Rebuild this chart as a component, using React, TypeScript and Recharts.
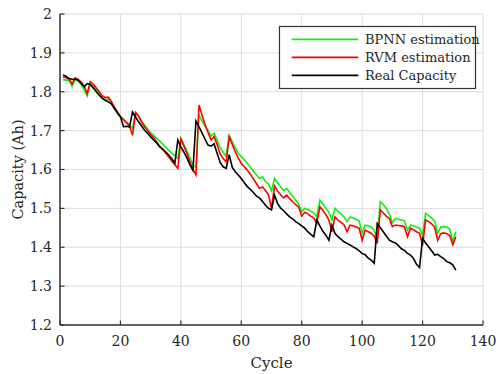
import React from 'react';
import { LineChart, Line, XAxis, YAxis, CartesianGrid } from 'recharts';

const CYCLES = [
  1, 2, 3, 4, 5, 6, 7, 8, 9, 10, 11, 12, 13, 14, 15, 16, 17, 18, 19, 20,
  21, 22, 23, 24, 25, 26, 27, 28, 29, 30, 31, 32, 33, 34, 35, 36, 37, 38, 39, 40,
  41, 42, 43, 44, 45, 46, 47, 48, 49, 50, 51, 52, 53, 54, 55, 56, 57, 58, 59, 60,
  61, 62, 63, 64, 65, 66, 67, 68, 69, 70, 71, 72, 73, 74, 75, 76, 77, 78, 79, 80,
  81, 82, 83, 84, 85, 86, 87, 88, 89, 90, 91, 92, 93, 94, 95, 96, 97, 98, 99, 100,
  101, 102, 103, 104, 105, 106, 107, 108, 109, 110, 111, 112, 113, 114, 115, 116, 117, 118, 119, 120,
  121, 122, 123, 124, 125, 126, 127, 128, 129, 130, 131,
];

const BPNN = [
  1.831, 1.830, 1.829, 1.814, 1.831, 1.828, 1.818, 1.805, 1.789, 1.820,
  1.815, 1.805, 1.795, 1.785, 1.779, 1.781, 1.772, 1.760, 1.748, 1.737,
  1.730, 1.722, 1.715, 1.706, 1.743, 1.736, 1.724, 1.714, 1.704, 1.695,
  1.688, 1.680, 1.673, 1.665, 1.657, 1.649, 1.642, 1.636, 1.628, 1.680,
  1.665, 1.648, 1.630, 1.612, 1.605, 1.740, 1.726, 1.711, 1.700, 1.686,
  1.693, 1.676, 1.656, 1.645, 1.633, 1.688, 1.672, 1.656, 1.641, 1.633,
  1.625, 1.616, 1.606, 1.596, 1.586, 1.577, 1.581, 1.569, 1.563, 1.545,
  1.577, 1.566, 1.556, 1.546, 1.551, 1.541, 1.531, 1.521, 1.511, 1.491,
  1.500, 1.497, 1.493, 1.488, 1.478, 1.521, 1.511, 1.500, 1.490, 1.470,
  1.500, 1.492, 1.486, 1.478, 1.466, 1.478, 1.475, 1.472, 1.468, 1.436,
  1.457, 1.455, 1.452, 1.444, 1.420, 1.517, 1.510, 1.500, 1.486, 1.463,
  1.474, 1.472, 1.470, 1.468, 1.444, 1.457, 1.455, 1.452, 1.449, 1.431,
  1.487, 1.482, 1.475, 1.468, 1.436, 1.452, 1.453, 1.452, 1.447, 1.414,
  1.440,
];

const RVM = [
  1.838, 1.836, 1.832, 1.820, 1.836, 1.832, 1.825, 1.815, 1.795, 1.826,
  1.820, 1.810, 1.800, 1.790, 1.785, 1.786, 1.775, 1.760, 1.748, 1.735,
  1.728, 1.720, 1.712, 1.688, 1.747, 1.738, 1.722, 1.710, 1.700, 1.690,
  1.682, 1.671, 1.660, 1.652, 1.642, 1.632, 1.622, 1.612, 1.603, 1.678,
  1.660, 1.641, 1.620, 1.600, 1.586, 1.766, 1.740, 1.716, 1.695, 1.676,
  1.685, 1.664, 1.640, 1.628, 1.620, 1.684, 1.665, 1.646, 1.629, 1.616,
  1.607, 1.598, 1.588, 1.576, 1.564, 1.552, 1.555, 1.546, 1.535, 1.500,
  1.558, 1.545, 1.535, 1.527, 1.534, 1.525, 1.517, 1.510, 1.503, 1.480,
  1.490, 1.486, 1.480, 1.475, 1.462, 1.504, 1.495, 1.484, 1.470, 1.440,
  1.478, 1.470, 1.464, 1.458, 1.440, 1.457, 1.455, 1.452, 1.449, 1.418,
  1.444, 1.440, 1.436, 1.428, 1.410, 1.496, 1.488, 1.480, 1.474, 1.453,
  1.457, 1.456, 1.455, 1.453, 1.427, 1.449, 1.445, 1.440, 1.436, 1.405,
  1.470, 1.466, 1.460, 1.452, 1.418, 1.435, 1.437, 1.435, 1.430, 1.406,
  1.427,
];

const REAL = [
  1.843, 1.840, 1.834, 1.832, 1.832, 1.830, 1.822, 1.813, 1.821, 1.819,
  1.810, 1.800, 1.791, 1.783, 1.778, 1.774, 1.769, 1.757, 1.745, 1.736,
  1.710, 1.711, 1.709, 1.748, 1.735, 1.723, 1.712, 1.701, 1.693, 1.684,
  1.676, 1.668, 1.658, 1.652, 1.645, 1.637, 1.628, 1.616, 1.676, 1.658,
  1.645, 1.630, 1.612, 1.598, 1.725, 1.710, 1.694, 1.678, 1.663, 1.660,
  1.666, 1.642, 1.618, 1.607, 1.603, 1.638, 1.606, 1.594, 1.586, 1.577,
  1.566, 1.556, 1.549, 1.541, 1.532, 1.527, 1.518, 1.508, 1.500, 1.496,
  1.534, 1.513, 1.501, 1.494, 1.486, 1.478, 1.473, 1.466, 1.461, 1.455,
  1.449, 1.440, 1.433, 1.427, 1.470, 1.455, 1.441, 1.431, 1.418, 1.457,
  1.436, 1.427, 1.421, 1.414, 1.410, 1.406, 1.401, 1.397, 1.391, 1.384,
  1.381, 1.372, 1.367, 1.359, 1.461, 1.450, 1.440, 1.429, 1.418, 1.414,
  1.411, 1.404, 1.396, 1.392, 1.384, 1.380, 1.371, 1.356, 1.348, 1.423,
  1.411, 1.401, 1.391, 1.380, 1.382, 1.376, 1.371, 1.363, 1.360, 1.355,
  1.341,
];

const SERIES_NAMES = ['BPNN estimation', 'RVM estimation', 'Real Capacity'];
const SERIES_COLORS = ['#11ee11', '#ff0000', '#000000'];

const X_TICKS = [0, 20, 40, 60, 80, 100, 120, 140];
const Y_TICKS = [1.2, 1.3, 1.4, 1.5, 1.6, 1.7, 1.8, 1.9, 2];
const Y_TICK_LABELS = ['1.2', '1.3', '1.4', '1.5', '1.6', '1.7', '1.8', '1.9', '2'];
const X_LABEL = 'Cycle';
const Y_LABEL = 'Capacity (Ah)';

const data = CYCLES.map((c, i) => ({ cycle: c, bpnn: BPNN[i], rvm: RVM[i], real: REAL[i] }));

const FONT = "'DejaVu Serif', serif";
const AXIS_COLOR = '#333333';
const TEXT_COLOR = '#262626';
const TICK_LEN = 4.5;
const X_TICK_MARGIN = 11;
const Y_TICK_MARGIN = 8;

const BottomTick = (props: any) => {
  const { x, y, payload } = props;
  const base = y - X_TICK_MARGIN;
  return (
    <g>
      <line x1={x} y1={base} x2={x} y2={base - TICK_LEN} stroke={AXIS_COLOR} strokeWidth={1.2} />
      <text x={x} y={y} dy="0.71em" textAnchor="middle" fontFamily={FONT} fontSize={14} fill={TEXT_COLOR}>
        {payload.value}
      </text>
    </g>
  );
};

const TopTick = (props: any) => {
  const { x, y } = props;
  return <line x1={x} y1={y} x2={x} y2={y + TICK_LEN} stroke={AXIS_COLOR} strokeWidth={1.2} />;
};

const LeftTick = (props: any) => {
  const { x, y, payload } = props;
  const base = x + Y_TICK_MARGIN;
  const idx = Y_TICKS.indexOf(payload.value);
  const label = idx >= 0 ? Y_TICK_LABELS[idx] : String(payload.value);
  return (
    <g>
      <line x1={base} y1={y} x2={base + TICK_LEN} y2={y} stroke={AXIS_COLOR} strokeWidth={1.2} />
      <text x={x} y={y} dy="0.355em" textAnchor="end" fontFamily={FONT} fontSize={14} fill={TEXT_COLOR}>
        {label}
      </text>
    </g>
  );
};

const RightTick = (props: any) => {
  const { x, y } = props;
  return <line x1={x} y1={y} x2={x - TICK_LEN} y2={y} stroke={AXIS_COLOR} strokeWidth={1.2} />;
};

const YLabel = (props: any) => {
  const vb = props.viewBox || { x: 16, y: 14, width: 44, height: 311 };
  const cx = vb.x + 7.3;
  const cy = vb.y + vb.height / 2;
  return (
    <text
      transform={`translate(${cx}, ${cy}) rotate(-90)`}
      textAnchor="middle"
      fontFamily={FONT}
      fontSize={14.5}
      fill={TEXT_COLOR}
    >
      {Y_LABEL}
    </text>
  );
};

const Legend = () => {
  const rows = [13.3, 31.3, 49.3];
  return (
    <svg
      width={198}
      height={64}
      style={{ position: 'absolute', left: 279, top: 26, overflow: 'visible' }}
    >
      <rect x={0.5} y={0.5} width={196} height={62} fill="#ffffff" stroke={AXIS_COLOR} strokeWidth={1.2} />
      {SERIES_NAMES.map((name, i) => (
        <g key={name}>
          <line x1={12.7} y1={rows[i]} x2={79.3} y2={rows[i]} stroke={SERIES_COLORS[i]} strokeWidth={1.8} />
          <text x={86} y={rows[i]} dy="0.35em" fontFamily={FONT} fontSize={13} fill={TEXT_COLOR}>
            {name}
          </text>
        </g>
      ))}
    </svg>
  );
};

export default function App() {
  return (
    <div style={{ position: 'relative', width: 496, height: 374 }}>
      <style>{'body { margin: 0; }'}</style>
      <LineChart width={496} height={374} data={data} margin={{ top: 14, right: 13, bottom: 0, left: 16 }}>
        <CartesianGrid stroke="#dcdcdc" strokeWidth={1} />
        <XAxis
          dataKey="cycle"
          type="number"
          domain={[0, 140]}
          ticks={X_TICKS}
          interval={0}
          height={49}
          tickSize={0}
          tickMargin={X_TICK_MARGIN}
          axisLine={{ stroke: AXIS_COLOR, strokeWidth: 1.5 }}
          tick={BottomTick}
          allowDataOverflow
          label={{
            value: X_LABEL,
            position: 'insideBottom',
            offset: 6,
            style: { fontFamily: FONT, fontSize: 15, fill: TEXT_COLOR },
          }}
        />
        <XAxis
          xAxisId="top"
          orientation="top"
          dataKey="cycle"
          type="number"
          domain={[0, 140]}
          ticks={X_TICKS}
          interval={0}
          height={0}
          tickSize={0}
          tickMargin={0}
          axisLine={{ stroke: AXIS_COLOR, strokeWidth: 1.5 }}
          tick={TopTick}
          allowDataOverflow
        />
        <YAxis
          type="number"
          domain={[1.2, 2]}
          ticks={Y_TICKS}
          interval={0}
          width={44}
          tickSize={0}
          tickMargin={Y_TICK_MARGIN}
          axisLine={{ stroke: AXIS_COLOR, strokeWidth: 1.5 }}
          tick={LeftTick}
          allowDataOverflow
          label={{ content: YLabel }}
        />
        <YAxis
          yAxisId="right"
          orientation="right"
          type="number"
          domain={[1.2, 2]}
          ticks={Y_TICKS}
          interval={0}
          width={0}
          tickSize={0}
          tickMargin={0}
          axisLine={{ stroke: AXIS_COLOR, strokeWidth: 1.5 }}
          tick={RightTick}
          allowDataOverflow
        />
        <Line type="linear" dataKey="bpnn" name={SERIES_NAMES[0]} stroke={SERIES_COLORS[0]} strokeWidth={1.6} dot={false} isAnimationActive={false} />
        <Line type="linear" dataKey="rvm" name={SERIES_NAMES[1]} stroke={SERIES_COLORS[1]} strokeWidth={1.6} dot={false} isAnimationActive={false} />
        <Line type="linear" dataKey="real" name={SERIES_NAMES[2]} stroke={SERIES_COLORS[2]} strokeWidth={1.6} dot={false} isAnimationActive={false} />
      </LineChart>
      <Legend />
    </div>
  );
}
